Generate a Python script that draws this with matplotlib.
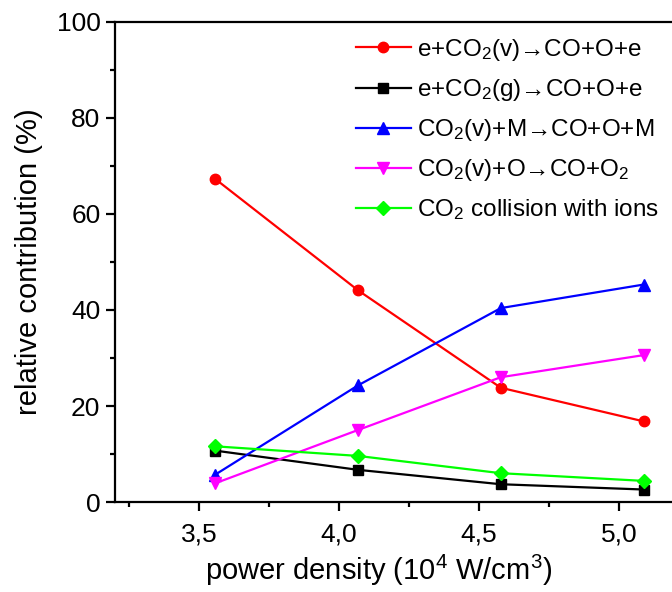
import numpy as np
import matplotlib
matplotlib.use('Agg')
import matplotlib.pyplot as plt
from matplotlib.ticker import MultipleLocator, FuncFormatter

plt.rcParams['font.family'] = ['Liberation Sans', 'DejaVu Sans']
plt.rcParams['mathtext.fontset'] = 'custom'
plt.rcParams['mathtext.rm'] = 'Liberation Sans'
plt.rcParams['mathtext.it'] = 'Liberation Sans:italic'
plt.rcParams['mathtext.bf'] = 'Liberation Sans:bold'

# data
power = [3.558, 4.068, 4.578, 5.088]
e_co2_v  = [67.3, 44.1, 23.8, 16.8]
e_co2_g  = [10.7, 6.7, 3.7, 2.6]
co2v_M   = [5.7, 24.3, 40.4, 45.3]
co2v_O   = [3.9, 15.0, 26.0, 30.6]
co2_ions = [11.6, 9.6, 6.0, 4.4]

labels = [r'e+CO$\mathregular{_2}$(v)→CO+O+e',
          r'e+CO$\mathregular{_2}$(g)→CO+O+e',
          r'CO$\mathregular{_2}$(v)+M→CO+O+M',
          r'CO$\mathregular{_2}$(v)+O→CO+O$\mathregular{_2}$',
          r'CO$\mathregular{_2}$ collision with ions']
colors  = ['#ff0000', '#000000', '#0000ff', '#ff00ff', '#00ff00']
markers = ['o', 's', '^', 'v', 'D']
msizes  = [7.5, 6.5, 8.5, 8.5, 7]
series  = [e_co2_v, e_co2_g, co2v_M, co2v_O, co2_ions]

fig = plt.figure(figsize=(6.72, 5.92), dpi=100)
ax = fig.add_axes([115/672, 90/592, 588/672, 480/592])

for y, c, m, ms, lab in zip(series, colors, markers, msizes, labels):
    ax.plot(power, y, color=c, marker=m, markersize=ms, linewidth=1.6, label=lab)

ax.set_xlim(3.2, 5.3)
ax.set_ylim(0, 100)
ax.xaxis.set_major_locator(MultipleLocator(0.5))
ax.xaxis.set_minor_locator(MultipleLocator(0.25))
ax.yaxis.set_major_locator(MultipleLocator(20))
ax.yaxis.set_minor_locator(MultipleLocator(10))
ax.xaxis.set_major_formatter(FuncFormatter(lambda v, p: ('%.1f' % v).replace('.', ',')))

for s in ax.spines.values():
    s.set_linewidth(1.6)
ax.tick_params(which='major', direction='out', length=6.5, width=1.6, labelsize=19)
ax.tick_params(which='minor', direction='out', length=3.8, width=1.6)
ax.tick_params(axis='x', pad=8)
ax.tick_params(axis='y', pad=4)
ax.tick_params(which='both', top=False, right=False)

ax.set_ylabel('relative contribution (%)', fontsize=21, labelpad=10)
ax.set_xlabel(r'power density (10$\mathregular{^4}$ W/cm$\mathregular{^3}$)', fontsize=21)
ax.xaxis.set_label_coords(0.449, -0.105)

leg = fig.legend(loc='upper left', bbox_to_anchor=(356/672, 1 - 37/592),
                 frameon=False, fontsize=17.5, handlelength=2.25,
                 labelspacing=0.58, handletextpad=0.25, borderpad=0, borderaxespad=0)

fig.savefig('out.png', dpi=100)
